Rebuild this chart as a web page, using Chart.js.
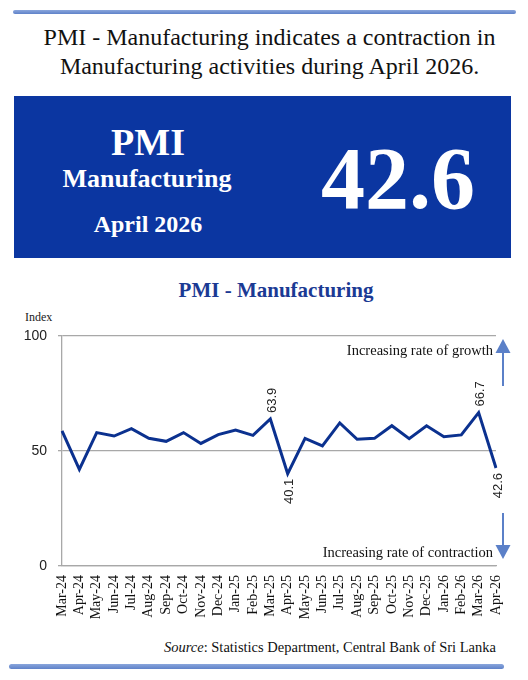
<!DOCTYPE html>
<html>
<head>
<meta charset="utf-8">
<script src="https://cdn.jsdelivr.net/npm/chart.js@4/dist/chart.umd.min.js"></script>
<style>
  html, body { margin:0; padding:0; background:#fff; }
  body { width:528px; height:680px; position:relative; overflow:hidden; font-family:"Liberation Serif","Times New Roman",serif; }
  .abs { position:absolute; white-space:nowrap; }
  #ruleTop { left:13px; top:10px; width:503px; height:4px; background:linear-gradient(#8aa6dc,#5f82c9); border-radius:2px; }
  #ruleBot { left:9px; top:664px; width:495px; height:5px; background:linear-gradient(#8aa6dc,#5f82c9); border-radius:3px; }
  #headline { left:0; top:23px; width:539px; text-align:center; font-size:24px; line-height:29px; color:#111; }
  #box { left:14px; top:96px; width:497px; height:162px; background:#0b36a1; }
  .bx { color:#fff; font-weight:bold; text-align:center; line-height:1; width:320px; }
  #chartTitle { left:126px; top:280px; width:300px; text-align:center; font-size:21px; line-height:1; font-weight:bold; color:#1b3a94; }
  #indexLbl { left:25px; top:311px; font-size:12px; line-height:1; color:#222; }
  #source { right:32px; top:640px; font-size:14.5px; line-height:1; color:#111; }
  #chartWrap { left:0; top:270px; width:528px; height:360px; }
</style>
</head>
<body>
<div id="ruleTop" class="abs"></div>
<div id="headline" class="abs">PMI - Manufacturing indicates a contraction in<br>Manufacturing activities during April 2026.</div>
<div id="box" class="abs"></div>
<div class="abs bx" style="left:-12px; top:123px; font-size:38px;">PMI</div>
<div class="abs bx" style="left:-13px; top:166px; font-size:26px;">Manufacturing</div>
<div class="abs bx" style="left:-12px; top:212px; font-size:24px;">April 2026</div>
<div class="abs bx" style="left:238px; top:135px; font-size:88px;">42.6</div>
<div id="chartTitle" class="abs">PMI - Manufacturing</div>
<div id="indexLbl" class="abs">Index</div>
<div id="chartWrap" class="abs"><canvas id="c"></canvas></div>
<div id="source" class="abs"><i>Source</i>: Statistics Department, Central Bank of Sri Lanka</div>
<div id="ruleBot" class="abs"></div>
<script>
const months = ['Mar-24','Apr-24','May-24','Jun-24','Jul-24','Aug-24','Sep-24','Oct-24','Nov-24','Dec-24','Jan-25','Feb-25','Mar-25','Apr-25','May-25','Jun-25','Jul-25','Aug-25','Sep-25','Oct-25','Nov-25','Dec-25','Jan-26','Feb-26','Mar-26','Apr-26'];
const pmiValues = [58.7,42.0,58.0,56.5,59.7,55.5,54.2,58.0,53.3,57.1,59.1,56.8,63.9,40.1,55.5,52.2,62.2,55.1,55.5,61.0,55.4,61.0,56.2,57.0,66.7,42.6];
const labelledMonths = ['Mar-25','Apr-25','Mar-26','Apr-26'];
const yTicks = [0,50,100];
const threshold = 50;
const growthText = 'Increasing rate of growth';
const contractionText = 'Increasing rate of contraction';

const AREA = {top:66, bottom:64, left:62, right:32};

const pointLabels = {
  id:'pointLabels',
  afterDatasetsDraw(chart){
    const ctx = chart.ctx;
    const meta = chart.getDatasetMeta(0);
    ctx.save();
    ctx.font = '13px "Liberation Sans", Arial, sans-serif';
    ctx.fillStyle = '#222';
    ctx.textBaseline = 'middle';
    labelledMonths.forEach(m => {
      const i = months.indexOf(m);
      const pt = meta.data[i];
      const v = pmiValues[i];
      const above = v > threshold;
      ctx.save();
      ctx.translate(pt.x + 2, above ? pt.y - 6 : pt.y + 5);
      ctx.rotate(-Math.PI/2);
      ctx.textAlign = above ? 'left' : 'right';
      ctx.fillText(v.toFixed(1), 0, 0);
      ctx.restore();
    });
    ctx.restore();
  }
};

const arrows = {
  id:'arrows',
  afterDraw(chart){
    const a = chart.chartArea, ctx = chart.ctx;
    ctx.save();
    ctx.font = '14.5px "Liberation Serif", "Times New Roman", serif';
    ctx.fillStyle = '#111';
    ctx.textAlign = 'right';
    ctx.textBaseline = 'alphabetic';
    ctx.fillText(growthText, a.right - 3, a.top + 19);
    ctx.fillText(contractionText, a.right - 3, a.bottom - 9);
    const ax = a.right + 7;
    ctx.strokeStyle = '#5b80c8';
    ctx.fillStyle = '#5b80c8';
    ctx.lineWidth = 2;
    // up arrow
    ctx.beginPath(); ctx.moveTo(ax, a.top + 50); ctx.lineTo(ax, a.top + 15); ctx.stroke();
    ctx.beginPath(); ctx.moveTo(ax, a.top + 3); ctx.lineTo(ax - 7.5, a.top + 17); ctx.lineTo(ax + 7.5, a.top + 17); ctx.closePath(); ctx.fill();
    // down arrow
    ctx.beginPath(); ctx.moveTo(ax, a.bottom - 53); ctx.lineTo(ax, a.bottom - 18); ctx.stroke();
    ctx.beginPath(); ctx.moveTo(ax, a.bottom - 7); ctx.lineTo(ax - 7.5, a.bottom - 21); ctx.lineTo(ax + 7.5, a.bottom - 21); ctx.closePath(); ctx.fill();
    ctx.restore();
  }
};

new Chart(document.getElementById('c'), {
  type:'line',
  data:{
    labels: months,
    datasets:[{
      data: pmiValues,
      borderColor:'#0b318f',
      borderWidth:3,
      pointRadius:0,
      tension:0,
      fill:false
    }]
  },
  options:{
    responsive:true,
    maintainAspectRatio:false,
    animation:false,
    layout:{ padding:{ top:AREA.top, right:AREA.right, left:0, bottom:0 } },
    plugins:{ legend:{display:false}, tooltip:{enabled:false}, title:{display:false} },
    scales:{
      x:{
        offset:false,
        grid:{ display:false, drawTicks:false },
        border:{ display:true, color:'#a8a8a8', width:1.3 },
        ticks:{ autoSkip:false, minRotation:90, maxRotation:90, padding:9, color:'#111',
          font:{ family:'"Liberation Serif", "Times New Roman", serif', size:14 } },
        afterFit(s){ s.height = AREA.bottom; }
      },
      y:{
        min:0, max:100,
        afterBuildTicks(s){ s.ticks = yTicks.map(v => ({value:v})); },
        grid:{ color:'#a8a8a8', lineWidth:1.3, tickLength:4, drawTicks:true },
        border:{ display:true, color:'#a8a8a8', width:1.3 },
        ticks:{ padding:11, color:'#222', font:{ family:'"Liberation Sans", Arial, sans-serif', size:14 } },
        afterFit(s){ s.width = AREA.left; }
      }
    }
  },
  plugins:[pointLabels, arrows]
});
</script>
</body>
</html>
